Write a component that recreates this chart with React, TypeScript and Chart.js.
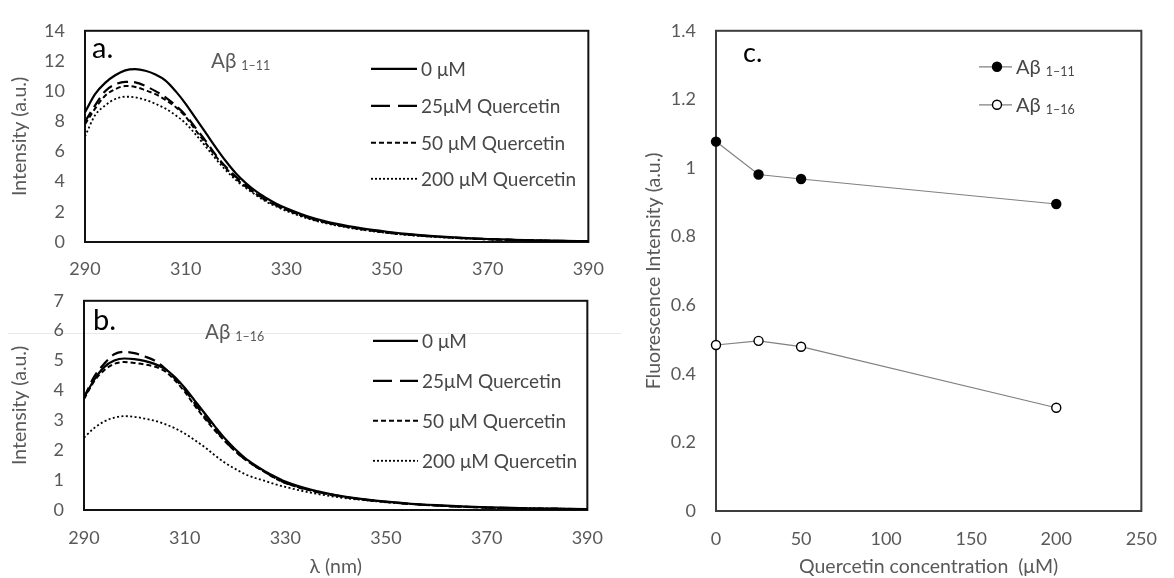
import { useEffect, useRef } from "react";
import { Chart, registerables } from "chart.js";

Chart.register(...registerables);

// ---------- data ----------
const wavelengths = [290, 292, 294, 296, 298, 300, 302, 304, 306, 308, 310, 312, 314, 316, 318, 320, 322, 324, 326, 328, 330, 335, 340, 345, 350, 355, 360, 365, 370, 375, 380, 385, 390];

const seriesLabels = ["0 μM", "25μM Quercetin", "50 μM Quercetin", "200 μM Quercetin"];

// panel a (Aβ 1-11)
const a0uM = [8.6, 9.8, 10.55, 11.05, 11.38, 11.46, 11.35, 11.1, 10.7, 10.0, 9.16, 8.19, 7.23, 6.26, 5.35, 4.54, 3.89, 3.35, 2.92, 2.54, 2.24, 1.62, 1.2, 0.9, 0.68, 0.5, 0.37, 0.27, 0.2, 0.15, 0.11, 0.08, 0.06];
const a25uM = [7.98, 9.05, 10.0, 10.45, 10.62, 10.58, 10.34, 10.0, 9.59, 9.05, 8.4, 7.55, 6.69, 5.76, 4.97, 4.32, 3.74, 3.23, 2.8, 2.45, 2.17, 1.56, 1.15, 0.86, 0.64, 0.47, 0.35, 0.26, 0.19, 0.14, 0.1, 0.07, 0.05];
const a50uM = [7.8, 8.84, 9.7, 10.13, 10.34, 10.28, 10.06, 9.8, 9.42, 8.95, 8.3, 7.4, 6.54, 5.68, 4.9, 4.2, 3.65, 3.18, 2.75, 2.41, 2.13, 1.53, 1.13, 0.84, 0.62, 0.46, 0.34, 0.25, 0.18, 0.13, 0.1, 0.07, 0.05];
const a200uM = [7.0, 8.4, 9.05, 9.48, 9.63, 9.59, 9.42, 9.16, 8.84, 8.4, 7.87, 7.12, 6.32, 5.5, 4.75, 4.1, 3.57, 3.1, 2.67, 2.35, 2.06, 1.48, 1.09, 0.81, 0.6, 0.44, 0.33, 0.24, 0.17, 0.12, 0.09, 0.06, 0.04];

// panel b (Aβ 1-16)
const b0uM = [3.76, 4.35, 4.78, 5.0, 5.07, 5.05, 4.99, 4.89, 4.73, 4.46, 4.09, 3.66, 3.23, 2.8, 2.39, 2.04, 1.74, 1.5, 1.29, 1.11, 0.95, 0.68, 0.5, 0.37, 0.28, 0.21, 0.16, 0.12, 0.09, 0.07, 0.05, 0.04, 0.03];
const b25uM = [3.76, 4.46, 4.89, 5.21, 5.29, 5.25, 5.14, 5.0, 4.75, 4.41, 4.03, 3.57, 3.12, 2.71, 2.32, 1.98, 1.7, 1.47, 1.27, 1.07, 0.91, 0.66, 0.49, 0.36, 0.27, 0.2, 0.15, 0.11, 0.08, 0.06, 0.05, 0.04, 0.03];
const b50uM = [3.71, 4.3, 4.68, 4.89, 4.95, 4.92, 4.87, 4.8, 4.65, 4.35, 3.96, 3.49, 3.06, 2.66, 2.3, 1.97, 1.69, 1.46, 1.26, 1.06, 0.9, 0.65, 0.48, 0.36, 0.27, 0.2, 0.15, 0.11, 0.08, 0.06, 0.05, 0.04, 0.03];
const b200uM = [2.42, 2.74, 2.96, 3.09, 3.14, 3.12, 3.06, 2.99, 2.88, 2.74, 2.56, 2.34, 2.1, 1.83, 1.58, 1.38, 1.2, 1.07, 0.97, 0.86, 0.77, 0.58, 0.44, 0.34, 0.26, 0.2, 0.15, 0.11, 0.08, 0.06, 0.05, 0.04, 0.02];

// panel c
const concentrations = [0, 25, 50, 200];
const ab111Intensity = [1.077, 0.981, 0.968, 0.895];
const ab116Intensity = [0.484, 0.496, 0.479, 0.301];
const peptideNames = ["Aβ", "Aβ"];
const peptideSubs = ["1–11", "1–16"];

// ---------- styles ----------
const FONT = "Lato, 'Open Sans', sans-serif";
const GRAY = "#595959";
const LEGEND_GRAY = "#474747";
const TICK_SIZE = 18;
const TITLE_SIZE = 19.5;

const lineStyles = [
  { dash: [] as number[], width: 2.2, legendDash: [] as number[] },
  { dash: [11, 6], width: 2.2, legendDash: [19, 8] },
  { dash: [5, 3], width: 2, legendDash: [5, 3] },
  { dash: [2, 2.4], width: 1.8, legendDash: [2, 2] },
];

function drawSub(ctx: CanvasRenderingContext2D, main: string, sub: string, x: number, y: number, color: string, size: number) {
  ctx.fillStyle = color;
  ctx.textAlign = "left";
  ctx.textBaseline = "alphabetic";
  ctx.font = `${size}px ${FONT}`;
  ctx.fillText(main, x, y);
  const w = ctx.measureText(main).width;
  ctx.font = `12.5px ${FONT}`;
  ctx.fillText(sub, x + w + 5, y + 2);
}

const decor = {
  id: "decor",
  beforeDatasetsDraw(chart: any, _args: any, opts: any) {
    const { ctx, chartArea: ca } = chart;
    ctx.save();
    ctx.strokeStyle = opts.frameColor || "#111";
    ctx.lineWidth = 2;
    ctx.strokeRect(ca.left, ca.top, ca.right - ca.left, ca.bottom - ca.top);
    ctx.restore();
  },
  afterDatasetsDraw(chart: any, _args: any, opts: any) {
    const { ctx, chartArea: ca } = chart;
    ctx.save();
    ctx.fillStyle = "#000";
    ctx.textAlign = "left";
    ctx.textBaseline = "alphabetic";
    ctx.font = `${opts.letterSize}px ${FONT}`;
    ctx.fillText(opts.letter, ca.left + opts.letterX, ca.top + opts.letterY);

    if (opts.title) {
      drawSub(ctx, opts.title, opts.titleSub, ca.left + opts.titleX, ca.top + opts.titleY, GRAY, 20.5);
    }

    if (opts.kind === "spectra") {
      chart.data.datasets.forEach((ds: any, i: number) => {
        const y = ca.top + opts.rows[i];
        ctx.beginPath();
        ctx.strokeStyle = ds.borderColor;
        ctx.lineWidth = ds.borderWidth;
        ctx.setLineDash(lineStyles[i].legendDash);
        ctx.moveTo(ca.left + opts.lineX[0], y);
        ctx.lineTo(ca.left + opts.lineX[1], y);
        ctx.stroke();
        ctx.setLineDash([]);
        ctx.fillStyle = LEGEND_GRAY;
        ctx.font = `19px ${FONT}`;
        ctx.textBaseline = "middle";
        ctx.fillText(ds.label, ca.left + opts.textX, y + 1);
      });
    } else if (opts.kind === "points") {
      chart.data.datasets.forEach((ds: any, i: number) => {
        const y = ca.top + opts.rows[i];
        ctx.beginPath();
        ctx.strokeStyle = ds.borderColor;
        ctx.lineWidth = ds.borderWidth;
        ctx.moveTo(ca.left + opts.lineX[0], y);
        ctx.lineTo(ca.left + opts.lineX[1], y);
        ctx.stroke();
        ctx.beginPath();
        ctx.arc(ca.left + opts.markerX, y, ds.pointRadius, 0, Math.PI * 2);
        ctx.fillStyle = ds.pointBackgroundColor;
        ctx.fill();
        ctx.lineWidth = ds.pointBorderWidth;
        ctx.strokeStyle = ds.pointBorderColor;
        ctx.stroke();
        drawSub(ctx, peptideNames[i], peptideSubs[i], ca.left + opts.textX, y + 7, LEGEND_GRAY, 20);
      });
    }
    ctx.restore();
  },
};

function spectraDatasets(series: number[][]) {
  return series.map((vals, i) => ({
    label: seriesLabels[i],
    data: wavelengths.map((w, k) => ({ x: w, y: vals[k] })),
    borderColor: "#000",
    borderWidth: lineStyles[i].width,
    borderDash: lineStyles[i].dash,
    pointRadius: 0,
    cubicInterpolationMode: "monotone" as const,
    fill: false,
  }));
}

function axisFont(size: number) {
  return { family: FONT, size };
}

function spectraConfig(series: number[][], panel: "a" | "b"): any {
  const isA = panel === "a";
  return {
    type: "line",
    data: { datasets: spectraDatasets(series) },
    plugins: [decor],
    options: {
      animation: false,
      responsive: false,
      devicePixelRatio: 1,
      layout: { padding: { left: 0, top: isA ? 25 : 23, right: 28, bottom: 0 } },
      scales: {
        x: {
          type: "linear",
          min: 290,
          max: 390,
          grid: { display: false, drawTicks: false },
          border: { display: false },
          ticks: { stepSize: 20, color: GRAY, font: axisFont(TICK_SIZE), padding: isA ? 16 : 17 },
          title: isA
            ? { display: false }
            : { display: true, text: "λ (nm)", color: GRAY, font: axisFont(TITLE_SIZE), padding: { top: 0, bottom: 0 } },
          afterFit: (s: any) => {
            s.height = isA ? 48 : 68;
          },
        },
        y: {
          type: "linear",
          min: 0,
          max: isA ? 14 : 7,
          grid: { display: false, drawTicks: false },
          border: { display: false },
          ticks: { stepSize: isA ? 2 : 1, color: GRAY, font: axisFont(TICK_SIZE), padding: 20 },
          title: { display: true, text: "Intensity (a.u.)", color: GRAY, font: axisFont(TITLE_SIZE), padding: { top: 8, bottom: 0 } },
          afterFit: (s: any) => {
            s.width = isA ? 85 : 84;
          },
        },
      },
      plugins: {
        legend: { display: false },
        tooltip: { enabled: false },
        decor: isA
          ? {
              kind: "spectra",
              frameColor: "#111",
              letter: "a.",
              letterSize: 29,
              letterX: 7,
              letterY: 27,
              title: "Aβ",
              titleSub: "1–11",
              titleX: 126,
              titleY: 37,
              rows: [38, 75, 112, 148],
              lineX: [286, 332],
              textX: 336,
            }
          : {
              kind: "spectra",
              frameColor: "#111",
              letter: "b.",
              letterSize: 29,
              letterX: 9,
              letterY: 29,
              title: "Aβ",
              titleSub: "1–16",
              titleX: 121,
              titleY: 38,
              rows: [40, 80, 120, 160],
              lineX: [289, 334],
              textX: 338,
            },
      },
    },
  };
}

function quercetinConfig(): any {
  const mk = (vals: number[], i: number) => ({
    label: peptideNames[i] + " " + peptideSubs[i],
    data: concentrations.map((c, k) => ({ x: c, y: vals[k] })),
    borderColor: "#808080",
    borderWidth: 1.2,
    pointRadius: 4.5,
    pointBackgroundColor: i === 0 ? "#000" : "#fff",
    pointBorderColor: "#000",
    pointBorderWidth: 1.4,
    clip: false,
    fill: false,
  });
  return {
    type: "line",
    data: { datasets: [mk(ab111Intensity, 0), mk(ab116Intensity, 1)] },
    plugins: [decor],
    options: {
      animation: false,
      responsive: false,
      devicePixelRatio: 1,
      layout: { padding: { left: 0, top: 30, right: 18, bottom: 0 } },
      scales: {
        x: {
          type: "linear",
          min: 0,
          max: 250,
          grid: { display: false, drawTicks: false },
          border: { display: false },
          ticks: { stepSize: 50, color: GRAY, font: axisFont(TICK_SIZE), padding: 17 },
          title: {
            display: true,
            text: "Quercetin concentration  (μM)",
            color: GRAY,
            font: axisFont(TITLE_SIZE),
            padding: { top: 0, bottom: 0 },
          },
          afterFit: (s: any) => {
            s.height = 67;
          },
        },
        y: {
          type: "linear",
          min: 0,
          max: 1.4,
          grid: { display: false, drawTicks: false },
          border: { display: false },
          ticks: {
            stepSize: 0.2,
            color: GRAY,
            font: axisFont(TICK_SIZE),
            padding: 20,
            callback: (v: any) => String(+Number(v).toFixed(1)),
          },
          title: {
            display: true,
            text: "Fluorescence Intensity (a.u.)",
            color: GRAY,
            font: axisFont(TITLE_SIZE),
            padding: { top: 22, bottom: 0 },
          },
          afterFit: (s: any) => {
            s.width = 96;
          },
        },
      },
      plugins: {
        legend: { display: false },
        tooltip: { enabled: false },
        decor: {
          kind: "points",
          frameColor: "#3d3d3d",
          letter: "c.",
          letterSize: 27,
          letterX: 27,
          letterY: 31,
          rows: [36, 74],
          lineX: [263, 296],
          markerX: 281,
          textX: 300,
        },
      },
    },
  };
}

function ChartCanvas({ config, left, top, width, height }: { config: () => any; left: number; top: number; width: number; height: number }) {
  const ref = useRef<HTMLCanvasElement | null>(null);
  useEffect(() => {
    if (!ref.current) return;
    const chart = new Chart(ref.current, config());
    return () => chart.destroy();
  }, []);
  return (
    <canvas
      ref={ref}
      width={width}
      height={height}
      style={{ position: "absolute", left, top, width, height }}
    />
  );
}

export default function App() {
  return (
    <div style={{ position: "absolute", left: 0, top: 0, width: 1174, height: 578, background: "#fff", overflow: "hidden" }}>
      <div style={{ position: "absolute", left: 8, top: 333, width: 613, height: 1, background: "#e9e9e9" }} />
      <ChartCanvas config={() => spectraConfig([a0uM, a25uM, a50uM, a200uM], "a")} left={0} top={0} width={620} height={290} />
      <ChartCanvas config={() => spectraConfig([b0uM, b25uM, b50uM, b200uM], "b")} left={0} top={270} width={620} height={308} />
      <ChartCanvas config={quercetinConfig} left={620} top={0} width={554} height={578} />
    </div>
  );
}
